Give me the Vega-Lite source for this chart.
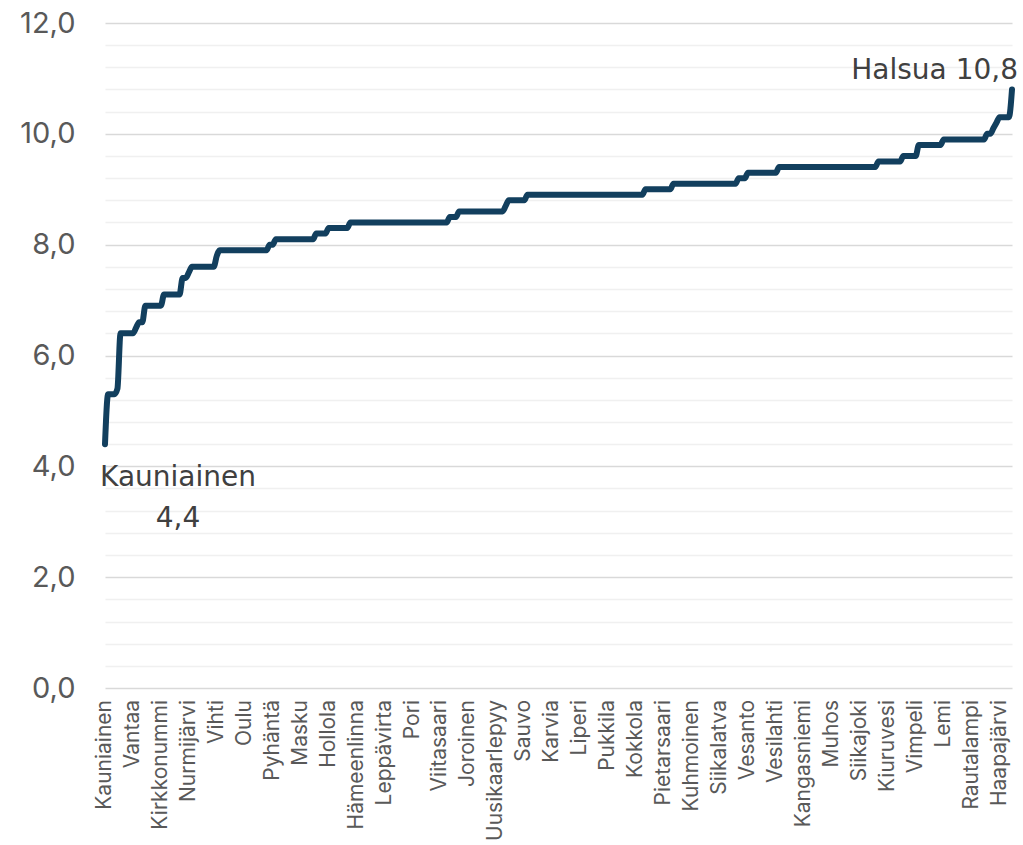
{
  "$schema": "https://vega.github.io/schema/vega-lite/v6.json",
  "width": 907,
  "height": 665,
  "autosize": {"type": "none"},
  "padding": {"left": 105, "top": 23, "right": 11, "bottom": 157},
  "config": {"view": {"stroke": null}, "font": "Inter"},
  "data": {"values": [
    {"nro":0,"kunta":"Kauniainen","arvo":4.4},{"nro":1,"arvo":5.3},{"nro":2,"arvo":5.3},{"nro":3,"arvo":5.3},{"nro":4,"arvo":5.4},
    {"nro":5,"arvo":6.4},{"nro":6,"arvo":6.4},{"nro":7,"arvo":6.4},{"nro":8,"arvo":6.4},{"nro":9,"kunta":"Vantaa","arvo":6.4},
    {"nro":10,"arvo":6.5},{"nro":11,"arvo":6.6},{"nro":12,"arvo":6.6},{"nro":13,"arvo":6.9},{"nro":14,"arvo":6.9},
    {"nro":15,"arvo":6.9},{"nro":16,"arvo":6.9},{"nro":17,"arvo":6.9},{"nro":18,"kunta":"Kirkkonummi","arvo":6.9},{"nro":19,"arvo":7.1},
    {"nro":20,"arvo":7.1},{"nro":21,"arvo":7.1},{"nro":22,"arvo":7.1},{"nro":23,"arvo":7.1},{"nro":24,"arvo":7.1},
    {"nro":25,"arvo":7.4},{"nro":26,"arvo":7.4},{"nro":27,"kunta":"Nurmijärvi","arvo":7.5},{"nro":28,"arvo":7.6},{"nro":29,"arvo":7.6},
    {"nro":30,"arvo":7.6},{"nro":31,"arvo":7.6},{"nro":32,"arvo":7.6},{"nro":33,"arvo":7.6},{"nro":34,"arvo":7.6},
    {"nro":35,"arvo":7.6},{"nro":36,"kunta":"Vihti","arvo":7.8},{"nro":37,"arvo":7.9},{"nro":38,"arvo":7.9},{"nro":39,"arvo":7.9},
    {"nro":40,"arvo":7.9},{"nro":41,"arvo":7.9},{"nro":42,"arvo":7.9},{"nro":43,"arvo":7.9},{"nro":44,"arvo":7.9},
    {"nro":45,"kunta":"Oulu","arvo":7.9},{"nro":46,"arvo":7.9},{"nro":47,"arvo":7.9},{"nro":48,"arvo":7.9},{"nro":49,"arvo":7.9},
    {"nro":50,"arvo":7.9},{"nro":51,"arvo":7.9},{"nro":52,"arvo":7.9},{"nro":53,"arvo":8.0},{"nro":54,"kunta":"Pyhäntä","arvo":8.0},
    {"nro":55,"arvo":8.1},{"nro":56,"arvo":8.1},{"nro":57,"arvo":8.1},{"nro":58,"arvo":8.1},{"nro":59,"arvo":8.1},
    {"nro":60,"arvo":8.1},{"nro":61,"arvo":8.1},{"nro":62,"arvo":8.1},{"nro":63,"kunta":"Masku","arvo":8.1},{"nro":64,"arvo":8.1},
    {"nro":65,"arvo":8.1},{"nro":66,"arvo":8.1},{"nro":67,"arvo":8.1},{"nro":68,"arvo":8.2},{"nro":69,"arvo":8.2},
    {"nro":70,"arvo":8.2},{"nro":71,"arvo":8.2},{"nro":72,"kunta":"Hollola","arvo":8.3},{"nro":73,"arvo":8.3},{"nro":74,"arvo":8.3},
    {"nro":75,"arvo":8.3},{"nro":76,"arvo":8.3},{"nro":77,"arvo":8.3},{"nro":78,"arvo":8.3},{"nro":79,"arvo":8.4},
    {"nro":80,"arvo":8.4},{"nro":81,"kunta":"Hämeenlinna","arvo":8.4},{"nro":82,"arvo":8.4},{"nro":83,"arvo":8.4},{"nro":84,"arvo":8.4},
    {"nro":85,"arvo":8.4},{"nro":86,"arvo":8.4},{"nro":87,"arvo":8.4},{"nro":88,"arvo":8.4},{"nro":89,"arvo":8.4},
    {"nro":90,"kunta":"Leppävirta","arvo":8.4},{"nro":91,"arvo":8.4},{"nro":92,"arvo":8.4},{"nro":93,"arvo":8.4},{"nro":94,"arvo":8.4},
    {"nro":95,"arvo":8.4},{"nro":96,"arvo":8.4},{"nro":97,"arvo":8.4},{"nro":98,"arvo":8.4},{"nro":99,"kunta":"Pori","arvo":8.4},
    {"nro":100,"arvo":8.4},{"nro":101,"arvo":8.4},{"nro":102,"arvo":8.4},{"nro":103,"arvo":8.4},{"nro":104,"arvo":8.4},
    {"nro":105,"arvo":8.4},{"nro":106,"arvo":8.4},{"nro":107,"arvo":8.4},{"nro":108,"kunta":"Viitasaari","arvo":8.4},{"nro":109,"arvo":8.4},
    {"nro":110,"arvo":8.4},{"nro":111,"arvo":8.5},{"nro":112,"arvo":8.5},{"nro":113,"arvo":8.5},{"nro":114,"arvo":8.6},
    {"nro":115,"arvo":8.6},{"nro":116,"arvo":8.6},{"nro":117,"kunta":"Joroinen","arvo":8.6},{"nro":118,"arvo":8.6},{"nro":119,"arvo":8.6},
    {"nro":120,"arvo":8.6},{"nro":121,"arvo":8.6},{"nro":122,"arvo":8.6},{"nro":123,"arvo":8.6},{"nro":124,"arvo":8.6},
    {"nro":125,"arvo":8.6},{"nro":126,"kunta":"Uusikaarlepyy","arvo":8.6},{"nro":127,"arvo":8.6},{"nro":128,"arvo":8.6},{"nro":129,"arvo":8.7},
    {"nro":130,"arvo":8.8},{"nro":131,"arvo":8.8},{"nro":132,"arvo":8.8},{"nro":133,"arvo":8.8},{"nro":134,"arvo":8.8},
    {"nro":135,"kunta":"Sauvo","arvo":8.8},{"nro":136,"arvo":8.9},{"nro":137,"arvo":8.9},{"nro":138,"arvo":8.9},{"nro":139,"arvo":8.9},
    {"nro":140,"arvo":8.9},{"nro":141,"arvo":8.9},{"nro":142,"arvo":8.9},{"nro":143,"arvo":8.9},{"nro":144,"kunta":"Karvia","arvo":8.9},
    {"nro":145,"arvo":8.9},{"nro":146,"arvo":8.9},{"nro":147,"arvo":8.9},{"nro":148,"arvo":8.9},{"nro":149,"arvo":8.9},
    {"nro":150,"arvo":8.9},{"nro":151,"arvo":8.9},{"nro":152,"arvo":8.9},{"nro":153,"kunta":"Liperi","arvo":8.9},{"nro":154,"arvo":8.9},
    {"nro":155,"arvo":8.9},{"nro":156,"arvo":8.9},{"nro":157,"arvo":8.9},{"nro":158,"arvo":8.9},{"nro":159,"arvo":8.9},
    {"nro":160,"arvo":8.9},{"nro":161,"arvo":8.9},{"nro":162,"kunta":"Pukkila","arvo":8.9},{"nro":163,"arvo":8.9},{"nro":164,"arvo":8.9},
    {"nro":165,"arvo":8.9},{"nro":166,"arvo":8.9},{"nro":167,"arvo":8.9},{"nro":168,"arvo":8.9},{"nro":169,"arvo":8.9},
    {"nro":170,"arvo":8.9},{"nro":171,"kunta":"Kokkola","arvo":8.9},{"nro":172,"arvo":8.9},{"nro":173,"arvo":8.9},{"nro":174,"arvo":9.0},
    {"nro":175,"arvo":9.0},{"nro":176,"arvo":9.0},{"nro":177,"arvo":9.0},{"nro":178,"arvo":9.0},{"nro":179,"arvo":9.0},
    {"nro":180,"kunta":"Pietarsaari","arvo":9.0},{"nro":181,"arvo":9.0},{"nro":182,"arvo":9.0},{"nro":183,"arvo":9.1},{"nro":184,"arvo":9.1},
    {"nro":185,"arvo":9.1},{"nro":186,"arvo":9.1},{"nro":187,"arvo":9.1},{"nro":188,"arvo":9.1},{"nro":189,"kunta":"Kuhmoinen","arvo":9.1},
    {"nro":190,"arvo":9.1},{"nro":191,"arvo":9.1},{"nro":192,"arvo":9.1},{"nro":193,"arvo":9.1},{"nro":194,"arvo":9.1},
    {"nro":195,"arvo":9.1},{"nro":196,"arvo":9.1},{"nro":197,"arvo":9.1},{"nro":198,"kunta":"Siikalatva","arvo":9.1},{"nro":199,"arvo":9.1},
    {"nro":200,"arvo":9.1},{"nro":201,"arvo":9.1},{"nro":202,"arvo":9.1},{"nro":203,"arvo":9.1},{"nro":204,"arvo":9.2},
    {"nro":205,"arvo":9.2},{"nro":206,"arvo":9.2},{"nro":207,"kunta":"Vesanto","arvo":9.3},{"nro":208,"arvo":9.3},{"nro":209,"arvo":9.3},
    {"nro":210,"arvo":9.3},{"nro":211,"arvo":9.3},{"nro":212,"arvo":9.3},{"nro":213,"arvo":9.3},{"nro":214,"arvo":9.3},
    {"nro":215,"arvo":9.3},{"nro":216,"kunta":"Vesilahti","arvo":9.3},{"nro":217,"arvo":9.4},{"nro":218,"arvo":9.4},{"nro":219,"arvo":9.4},
    {"nro":220,"arvo":9.4},{"nro":221,"arvo":9.4},{"nro":222,"arvo":9.4},{"nro":223,"arvo":9.4},{"nro":224,"arvo":9.4},
    {"nro":225,"kunta":"Kangasniemi","arvo":9.4},{"nro":226,"arvo":9.4},{"nro":227,"arvo":9.4},{"nro":228,"arvo":9.4},{"nro":229,"arvo":9.4},
    {"nro":230,"arvo":9.4},{"nro":231,"arvo":9.4},{"nro":232,"arvo":9.4},{"nro":233,"arvo":9.4},{"nro":234,"kunta":"Muhos","arvo":9.4},
    {"nro":235,"arvo":9.4},{"nro":236,"arvo":9.4},{"nro":237,"arvo":9.4},{"nro":238,"arvo":9.4},{"nro":239,"arvo":9.4},
    {"nro":240,"arvo":9.4},{"nro":241,"arvo":9.4},{"nro":242,"arvo":9.4},{"nro":243,"kunta":"Siikajoki","arvo":9.4},{"nro":244,"arvo":9.4},
    {"nro":245,"arvo":9.4},{"nro":246,"arvo":9.4},{"nro":247,"arvo":9.4},{"nro":248,"arvo":9.4},{"nro":249,"arvo":9.5},
    {"nro":250,"arvo":9.5},{"nro":251,"arvo":9.5},{"nro":252,"kunta":"Kiuruvesi","arvo":9.5},{"nro":253,"arvo":9.5},{"nro":254,"arvo":9.5},
    {"nro":255,"arvo":9.5},{"nro":256,"arvo":9.5},{"nro":257,"arvo":9.6},{"nro":258,"arvo":9.6},{"nro":259,"arvo":9.6},
    {"nro":260,"arvo":9.6},{"nro":261,"kunta":"Vimpeli","arvo":9.6},{"nro":262,"arvo":9.8},{"nro":263,"arvo":9.8},{"nro":264,"arvo":9.8},
    {"nro":265,"arvo":9.8},{"nro":266,"arvo":9.8},{"nro":267,"arvo":9.8},{"nro":268,"arvo":9.8},{"nro":269,"arvo":9.8},
    {"nro":270,"kunta":"Lemi","arvo":9.9},{"nro":271,"arvo":9.9},{"nro":272,"arvo":9.9},{"nro":273,"arvo":9.9},{"nro":274,"arvo":9.9},
    {"nro":275,"arvo":9.9},{"nro":276,"arvo":9.9},{"nro":277,"arvo":9.9},{"nro":278,"arvo":9.9},{"nro":279,"kunta":"Rautalampi","arvo":9.9},
    {"nro":280,"arvo":9.9},{"nro":281,"arvo":9.9},{"nro":282,"arvo":9.9},{"nro":283,"arvo":9.9},{"nro":284,"arvo":10.0},
    {"nro":285,"arvo":10.0},{"nro":286,"arvo":10.1},{"nro":287,"arvo":10.2},{"nro":288,"kunta":"Haapajärvi","arvo":10.3},{"nro":289,"arvo":10.3},
    {"nro":290,"arvo":10.3},{"nro":291,"arvo":10.3},{"nro":292,"kunta":"Halsua","arvo":10.8}
  ]},
  "encoding": {
    "x": {"field": "nro", "type": "quantitative", "scale": {"domain": [0, 292], "nice": false, "zero": false}, "axis": null}
  },
  "layer": [
    {
      "mark": {"type": "line", "interpolate": "monotone", "color": "#123f5e", "strokeWidth": 6, "strokeCap": "round", "strokeJoin": "round"},
      "encoding": {
        "y": {"field": "arvo", "type": "quantitative",
          "scale": {"domain": [0, 12], "nice": false, "zero": true},
          "axis": {"title": null, "values": [0, 2, 4, 6, 8, 10, 12], "grid": true, "gridColor": "#d9d9d9", "gridWidth": 1.5,
            "domain": false, "ticks": false, "labelPadding": 30, "labelFontSize": 29, "labelColor": "#595959", "labelFont": "Inter",
            "labelExpr": "replace(format(datum.value, '.1f'), '.', ',')"}}
      }
    },
    {
      "transform": [{"filter": "isValid(datum.kunta) && datum.kunta != 'Halsua'"}],
      "mark": {"type": "text", "angle": 270, "align": "right", "baseline": "middle", "dx": -12, "fontSize": 21, "color": "#595959", "font": "Inter"},
      "encoding": {
        "text": {"field": "kunta"},
        "y": {"datum": 0, "type": "quantitative",
          "axis": {"orient": "left", "title": null, "values": [0.4,0.8,1.2,1.6,2.4,2.8,3.2,3.6,4.4,4.8,5.2,5.6,6.4,6.8,7.2,7.6,8.4,8.8,9.2,9.6,10.4,10.8,11.2,11.6],
            "grid": true, "gridColor": "#f0f0f0", "gridWidth": 1.5, "labels": false, "ticks": false, "domain": false}}
      }
    },
    {
      "transform": [
        {"filter": "datum.kunta == 'Kauniainen'"},
        {"calculate": "[datum.kunta, replace(format(datum.arvo, '.1f'), '.', ',')]", "as": "nimio"}
      ],
      "mark": {"type": "text", "align": "center", "baseline": "top", "dx": 73, "dy": 20, "lineHeight": 41, "fontSize": 28, "color": "#404040", "font": "DejaVu Sans"},
      "encoding": {"text": {"field": "nimio"}, "y": {"field": "arvo", "type": "quantitative", "axis": null}}
    },
    {
      "transform": [
        {"filter": "datum.kunta == 'Halsua'"},
        {"calculate": "datum.kunta + ' ' + replace(format(datum.arvo, '.1f'), '.', ',')", "as": "nimio"}
      ],
      "mark": {"type": "text", "align": "right", "baseline": "alphabetic", "dx": 6, "dy": -11, "fontSize": 28, "color": "#404040", "font": "DejaVu Sans"},
      "encoding": {"text": {"field": "nimio"}, "y": {"field": "arvo", "type": "quantitative", "axis": null}}
    }
  ],
  "resolve": {"axis": {"y": "independent"}}
}
